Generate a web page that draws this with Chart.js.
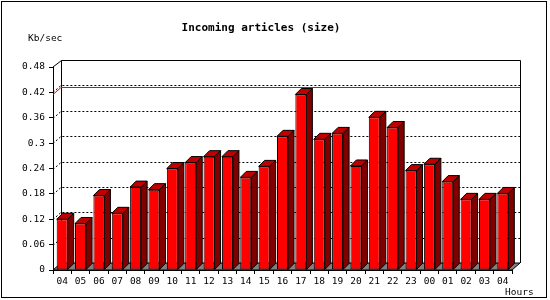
<!DOCTYPE html>
<html>
<head>
<meta charset="utf-8">
<script src="https://cdn.jsdelivr.net/npm/chart.js@4/dist/chart.umd.min.js"></script>
<style>
  html, body { margin: 0; padding: 0; background: #fff; }
  #wrap { width: 550px; height: 300px; }
</style>
</head>
<body>
<div id="wrap"><canvas id="chart" width="550" height="300"></canvas></div>
<script>
const hours = ['04', '05', '06', '07', '08', '09', '10', '11', '12', '13', '14', '15', '16',
    '17', '18', '19', '20', '21', '22', '23', '00', '01', '02', '03', '04'];
const kbPerSec = [0.120, 0.110, 0.176, 0.134, 0.196, 0.190, 0.240, 0.254, 0.268, 0.268, 0.219, 0.245, 0.316,
    0.415, 0.309, 0.323, 0.246, 0.361, 0.337, 0.235, 0.250, 0.209, 0.167, 0.167, 0.181];
const yTickLabels = ['0', '0.06', '0.12', '0.18', '0.24', '0.3', '0.36', '0.42', '0.48'];

const labelFont = { family: 'DejaVu Sans Mono', size: 9.5 };
const PLANE_DX = 8, PLANE_DY = 7;   // depth of the back wall
const BAR_DX = 6, BAR_DY = 6;       // depth of each bar

// back wall, floor, dashed grid and the max line
const backdrop = {
    id: 'backdrop',
    beforeDatasetsDraw(chart) {
        const { ctx, chartArea: a } = chart;
        const y = chart.scales.y;
        ctx.save();
        ctx.lineWidth = 1;

        // floor
        ctx.beginPath();
        ctx.moveTo(a.left, a.bottom);
        ctx.lineTo(a.right, a.bottom);
        ctx.lineTo(a.right + PLANE_DX, a.bottom - PLANE_DY);
        ctx.lineTo(a.left + PLANE_DX, a.bottom - PLANE_DY);
        ctx.closePath();
        ctx.fillStyle = '#808080';
        ctx.fill();
        ctx.strokeStyle = '#000';
        ctx.stroke();

        // wall outline
        ctx.beginPath();
        ctx.moveTo(a.left, a.top);
        ctx.lineTo(a.left + PLANE_DX + 0.5, a.top - PLANE_DY + 0.5);
        ctx.lineTo(a.right + PLANE_DX + 0.5, a.top - PLANE_DY + 0.5);
        ctx.lineTo(a.right + PLANE_DX + 0.5, a.bottom - PLANE_DY);
        ctx.moveTo(a.left + PLANE_DX + 0.5, a.top - PLANE_DY + 0.5);
        ctx.lineTo(a.left + PLANE_DX + 0.5, a.bottom - PLANE_DY);
        ctx.stroke();

        // dashed grid
        ctx.setLineDash([2, 2]);
        y.ticks.forEach((t, i) => {
            if (i === 0 || i === y.ticks.length - 1) return;
            const py = Math.round(y.getPixelForValue(t.value)) + 0.5;
            ctx.beginPath();
            ctx.moveTo(a.left, py);
            ctx.lineTo(a.left + PLANE_DX, py - PLANE_DY);
            ctx.lineTo(a.right + PLANE_DX, py - PLANE_DY);
            ctx.stroke();
        });

        // max value line
        ctx.setLineDash([]);
        const my = Math.round(y.getPixelForValue(Math.max(...kbPerSec))) + 0.5;
        ctx.strokeStyle = '#ff0000';
        ctx.beginPath();
        ctx.moveTo(a.left, my);
        ctx.lineTo(a.left + PLANE_DX, my - PLANE_DY);
        ctx.lineTo(a.right + PLANE_DX, my - PLANE_DY);
        ctx.stroke();
        ctx.restore();
    },
    // side and top faces of the bars
    afterDatasetsDraw(chart) {
        const { ctx } = chart;
        const meta = chart.getDatasetMeta(0);
        ctx.save();
        ctx.lineWidth = 1;
        ctx.strokeStyle = '#000';
        meta.data.forEach(bar => {
            const l = bar.x - bar.width / 2, r = bar.x + bar.width / 2;
            const t = bar.y, b = bar.base;
            ctx.beginPath();
            ctx.moveTo(r, t);
            ctx.lineTo(r + BAR_DX, t - BAR_DY);
            ctx.lineTo(r + BAR_DX, b - BAR_DY);
            ctx.lineTo(r, b);
            ctx.closePath();
            ctx.fillStyle = '#800000';
            ctx.fill();
            ctx.stroke();

            ctx.beginPath();
            ctx.moveTo(l, t);
            ctx.lineTo(l + BAR_DX, t - BAR_DY);
            ctx.lineTo(r + BAR_DX, t - BAR_DY);
            ctx.lineTo(r, t);
            ctx.closePath();
            ctx.fillStyle = '#c00000';
            ctx.fill();
            ctx.stroke();
        });
        ctx.restore();
    },
    afterDraw(chart) {
        const { ctx } = chart;
        ctx.save();
        ctx.fillStyle = '#000';
        ctx.textAlign = 'center';
        ctx.textBaseline = 'alphabetic';
        ctx.font = 'bold 11px "DejaVu Sans Mono"';
        ctx.fillText('Incoming articles (size)', 261, 30.5);
        ctx.textAlign = 'left';
        ctx.font = '9.5px "DejaVu Sans Mono"';
        ctx.fillText('Kb/sec', 28, 40.5);
        ctx.fillText('Hours', 505, 295);
        ctx.strokeStyle = '#000';
        ctx.lineWidth = 1;
        ctx.strokeRect(1.5, 1.5, 545, 296);
        ctx.restore();
    }
};

new Chart(document.getElementById('chart'), {
    type: 'bar',
    data: {
        labels: hours,
        datasets: [{
            label: 'Kb/sec',
            data: kbPerSec,
            backgroundColor: '#ff0000',
            borderColor: '#000',
            borderWidth: 1,
            borderSkipped: false,
            barPercentage: 1,
            categoryPercentage: 0.6
        }]
    },
    options: {
        responsive: false,
        animation: false,
        layout: { padding: { left: 0, right: 38, top: 67, bottom: 0 } },
        plugins: {
            legend: { display: false },
            title: { display: false },
            tooltip: { enabled: false }
        },
        scales: {
            x: {
                grid: { drawOnChartArea: false, drawTicks: true, tickLength: 4, color: '#000', offset: true },
                border: { display: true, color: '#000' },
                ticks: { color: '#000', font: labelFont, padding: 2, maxRotation: 0, autoSkip: false },
                afterFit(scale) { scale.height = 30; }
            },
            y: {
                min: 0,
                max: 0.48,
                grid: { drawOnChartArea: false, drawTicks: true, tickLength: 4, color: '#000' },
                border: { display: true, color: '#000' },
                ticks: {
                    stepSize: 0.06,
                    color: '#000',
                    font: labelFont,
                    padding: 4,
                    callback: (v, i) => yTickLabels[i]
                },
                afterFit(scale) { scale.width = 53; }
            }
        }
    },
    plugins: [backdrop]
});
</script>
</body>
</html>
